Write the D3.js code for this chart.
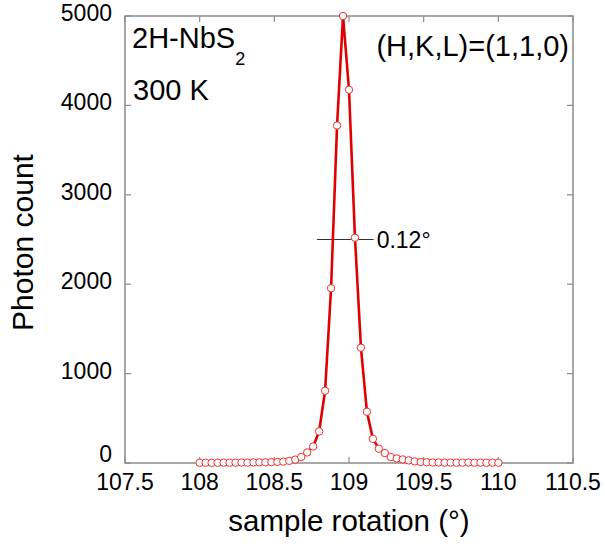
<!DOCTYPE html>
<html><head><meta charset="utf-8">
<script src="https://cdn.jsdelivr.net/npm/d3@7"></script>
<style>body{margin:0;background:#fff}svg{display:block}text{font-family:"Liberation Sans",Arial,sans-serif;fill:#000}</style>
</head><body><svg id="c" width="605" height="548"></svg>
<script>
// Data
const angles = d3.range(51).map(i => +(108 + 0.04 * i).toFixed(2));
const counts = [2,3,2,3,4,3,4,5,4,6,7,8,10,12,15,24,38,67,118,185,353,808,1955,3775,5000,4175,2520,1290,573,270,160,111,67,51,40,29,18,11,8,5,6,4,5,3,4,5,3,4,3,4,3];
const xTicks = [107.5,108,108.5,109,109.5,110,110.5];
const xTickLabels = ["107.5","108","108.5","109","109.5","110","110.5"];
const yTicks = [0,1000,2000,3000,4000,5000];
const fwhmLine = {x0:108.785, x1:109.165, y:2500, label:"0.12°"};

const svg = d3.select("#c");
const L=125, R=573, T=16, B=463;
const x = d3.scaleLinear().domain([107.5,110.5]).range([L,R]);
const y = d3.scaleLinear().domain([0,5000]).range([B,T]);
const axisColor = "#8c8c8c";

// frame
svg.append("rect").attr("x",L).attr("y",T).attr("width",R-L).attr("height",B-T)
  .attr("fill","none").attr("stroke",axisColor).attr("stroke-width",1.5);

// ticks
const g = svg.append("g").attr("stroke",axisColor).attr("stroke-width",1.2);
xTicks.forEach(t=>{
  g.append("line").attr("x1",x(t)).attr("x2",x(t)).attr("y1",B).attr("y2",B-6);
  g.append("line").attr("x1",x(t)).attr("x2",x(t)).attr("y1",T).attr("y2",T+6);
});
yTicks.forEach(t=>{
  g.append("line").attr("x1",L).attr("x2",L+6).attr("y1",y(t)).attr("y2",y(t));
  g.append("line").attr("x1",R).attr("x2",R-6).attr("y1",y(t)).attr("y2",y(t));
});

// tick labels
xTicks.forEach((t,i)=>{
  svg.append("text").attr("x",x(t)).attr("y",490).attr("text-anchor","middle")
    .attr("font-size",23).text(xTickLabels[i]);
});
yTicks.forEach(t=>{
  svg.append("text").attr("x",112).attr("y",y(t)+(t===0?-1:5)).attr("text-anchor","end")
    .attr("font-size",23).text(d3.format("d")(t));
});

// axis titles
svg.append("text").attr("x",(L+R)/2).attr("y",531).attr("text-anchor","middle")
  .attr("font-size",29.5).text("sample rotation (°)");
svg.append("text").attr("transform",`translate(33,${(T+B)/2+3}) rotate(-90)`)
  .attr("text-anchor","middle").attr("font-size",30).text("Photon count");

// fwhm annotation
svg.append("line").attr("x1",x(fwhmLine.x0)).attr("x2",x(fwhmLine.x1))
  .attr("y1",y(fwhmLine.y)).attr("y2",y(fwhmLine.y)).attr("stroke","#333").attr("stroke-width",1);
svg.append("text").attr("x",x(fwhmLine.x1)+3).attr("y",y(fwhmLine.y)+8)
  .attr("font-size",23).text(fwhmLine.label);

// data line
const data = angles.map((a,i)=>({a, c:counts[i]}));
svg.append("path").datum(data)
  .attr("d", d3.line().x(d=>x(d.a)).y(d=>y(d.c)))
  .attr("fill","none").attr("stroke","#e00000").attr("stroke-width",2.6).attr("stroke-linejoin","round");
svg.append("g").selectAll("circle").data(data).join("circle")
  .attr("cx",d=>x(d.a)).attr("cy",d=>y(d.c)).attr("r",3.7)
  .attr("fill","#fff").attr("stroke","#f03030").attr("stroke-width",1);

// labels
const t1 = svg.append("text").attr("x",132).attr("y",48).attr("font-size",29);
t1.append("tspan").text("2H-NbS");
t1.append("tspan").attr("font-size",18).attr("dy",17).text("2");
svg.append("text").attr("x",133).attr("y",100).attr("font-size",29).text("300 K");
svg.append("text").attr("x",569).attr("y",56).attr("text-anchor","end").attr("font-size",29).text("(H,K,L)=(1,1,0)");
</script></body></html>
